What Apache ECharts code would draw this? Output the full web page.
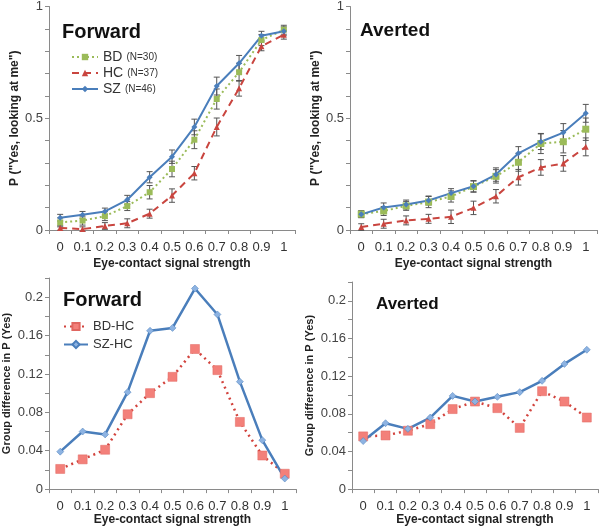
<!DOCTYPE html>
<meta charset="utf-8">
<html style="height: 100%">
<head>
    <title>Eye-contact</title>
    <script src="https://cdn.jsdelivr.net/npm/echarts@6/dist/echarts.min.js"></script>
</head>
<body style="height: 100%; margin: 0; background: #fff">
<div id="container" style="width: 600px; height: 527px"></div>

<script type="text/javascript">

    // categories (eye-contact signal strength)
    let strength = ['0', '0.1', '0.2', '0.3', '0.4', '0.5', '0.6', '0.7', '0.8', '0.9', '1']

    // top left: forward gaze, P("Yes, looking at me")
    let fwdBD = [0.034, 0.042, 0.062, 0.107, 0.169, 0.273, 0.404, 0.586, 0.706, 0.850, 0.896]
    let fwdHC = [0.009, 0.004, 0.018, 0.030, 0.073, 0.154, 0.254, 0.461, 0.634, 0.822, 0.874]
    let fwdSZ = [0.055, 0.068, 0.083, 0.135, 0.236, 0.328, 0.461, 0.644, 0.746, 0.869, 0.889]
    let fwdBDerr = [0.02, 0.02, 0.02, 0.02, 0.03, 0.035, 0.04, 0.045, 0.04, 0.025, 0.02]
    let fwdHCerr = [0.01, 0.01, 0.015, 0.02, 0.02, 0.03, 0.03, 0.04, 0.035, 0.02, 0.02]
    let fwdSZerr = [0.015, 0.015, 0.015, 0.02, 0.025, 0.03, 0.035, 0.04, 0.035, 0.02, 0.02]

    // top right: averted gaze
    let avtBD = [0.071, 0.085, 0.108, 0.125, 0.150, 0.194, 0.240, 0.303, 0.387, 0.395, 0.451]
    let avtHC = [0.013, 0.028, 0.043, 0.050, 0.059, 0.099, 0.151, 0.236, 0.280, 0.298, 0.372]
    let avtSZ = [0.070, 0.101, 0.114, 0.132, 0.165, 0.196, 0.248, 0.343, 0.395, 0.436, 0.522]
    let avtBDerr = [0.015, 0.02, 0.02, 0.025, 0.025, 0.025, 0.03, 0.04, 0.045, 0.05, 0.05]
    let avtHCerr = [0.015, 0.02, 0.02, 0.02, 0.03, 0.03, 0.03, 0.035, 0.035, 0.035, 0.04]
    let avtSZerr = [0.015, 0.02, 0.02, 0.02, 0.02, 0.025, 0.03, 0.03, 0.035, 0.04, 0.04]

    // bottom: group differences
    let fwdBDHC = [0.021, 0.031, 0.041, 0.078, 0.100, 0.117, 0.146, 0.124, 0.070, 0.035, 0.016]
    let fwdSZHC = [0.039, 0.060, 0.057, 0.101, 0.165, 0.168, 0.209, 0.182, 0.112, 0.051, 0.011]
    let avtBDHC = [0.056, 0.057, 0.062, 0.069, 0.085, 0.093, 0.086, 0.065, 0.104, 0.093, 0.076]
    let avtSZHC = [0.051, 0.070, 0.064, 0.076, 0.099, 0.093, 0.098, 0.103, 0.115, 0.133, 0.148]

    let cBD = '#9bbb59', cHC = '#c9453f', cSZ = '#4a7ebb'
    let font = "'Liberation Sans', Arial, sans-serif"

    function xAx(gi) {
        return {
            type: 'category', gridIndex: gi, data: strength, boundaryGap: true,
            axisLine: {lineStyle: {color: '#8a8a8a'}},
            axisTick: {show: true, length: 4, lineStyle: {color: '#8a8a8a'}},
            axisLabel: {color: '#333', fontSize: 13, fontFamily: font, margin: 11, interval: 0},
            name: 'Eye-contact signal strength', nameLocation: 'middle', nameGap: gi < 2 ? 28 : 23,
            nameTextStyle: {color: '#222', fontSize: 12, fontWeight: 'bold', fontFamily: font}
        }
    }

    function yAx(gi, top) {
        let o = {
            type: 'value', gridIndex: gi, min: 0,
            axisLine: {show: true, lineStyle: {color: '#8a8a8a'}},
            axisTick: {show: true, length: 4, lineStyle: {color: '#8a8a8a'}},
            splitLine: {show: false},
            axisLabel: {color: '#444', fontSize: 13, fontFamily: font, margin: 6},
            nameLocation: 'middle', nameRotate: 90,
            nameTextStyle: {color: '#222', fontWeight: 'bold', fontFamily: font}
        }
        if (top) {
            o.max = 1; o.interval = 0.1
            o.axisLabel.formatter = function (v) {
                let r = Math.round(v * 10)
                return (r === 0 || r === 5 || r === 10) ? String(r / 10) : ''
            }
            o.name = 'P ("Yes, looking at me")'
            o.nameGap = 27
            o.nameTextStyle.fontSize = 12
        } else {
            o.max = 0.22; o.interval = 0.02
            o.axisLabel.formatter = function (v) {
                let r = Math.round(v * 100)
                return (r % 4 === 0) ? String(r / 100) : ''
            }
            o.name = 'Group difference in P (Yes)'
            o.nameGap = 37
            o.nameTextStyle.fontSize = 11
        }
        return o
    }

    function lineS(name, gi, data, color, type, symbol, size, width) {
        return {
            type: 'line', name: name, xAxisIndex: gi, yAxisIndex: gi, data: data,
            symbol: symbol, symbolSize: size, showSymbol: true,
            lineStyle: {color: color, width: width, type: type},
            itemStyle: {color: color},
            z: 3
        }
    }

    function errS(gi, vals, errs) {
        let d = vals.map(function (v, i) { return [i, v - errs[i], v + errs[i]] })
        return {
            type: 'custom', xAxisIndex: gi, yAxisIndex: gi, data: d, z: 2,
            renderItem: function (params, api) {
                let lo = api.coord([api.value(0), api.value(1)])
                let hi = api.coord([api.value(0), api.value(2)])
                let w = 3
                let st = {stroke: '#555', lineWidth: 1}
                return {
                    type: 'group', children: [
                        {type: 'line', shape: {x1: lo[0], y1: lo[1], x2: hi[0], y2: hi[1]}, style: st},
                        {type: 'line', shape: {x1: lo[0] - w, y1: lo[1], x2: lo[0] + w, y2: lo[1]}, style: st},
                        {type: 'line', shape: {x1: hi[0] - w, y1: hi[1], x2: hi[0] + w, y2: hi[1]}, style: st}
                    ]
                }
            }
        }
    }

    let dom = document.getElementById("container")
    let chart = echarts.init(dom)

    let legendRich = {
        g: {fontSize: 14, color: '#333', fontFamily: font},
        n: {fontSize: 10, color: '#333', fontFamily: font, padding: [0, 0, 0, 4]}
    }

    chart.setOption({
        animation: false,
        textStyle: {fontFamily: font},
        title: [
            {text: 'Forward', left: 57, top: 17, textStyle: {fontSize: 20, fontWeight: 'bold', color: '#111', fontFamily: font}},
            {text: 'Averted', left: 355, top: 16, textStyle: {fontSize: 19, fontWeight: 'bold', color: '#111', fontFamily: font}},
            {text: 'Forward', left: 58, top: 285, textStyle: {fontSize: 20, fontWeight: 'bold', color: '#111', fontFamily: font}},
            {text: 'Averted', left: 371, top: 291, textStyle: {fontSize: 17, fontWeight: 'bold', color: '#111', fontFamily: font}}
        ],
        legend: [
            {
                data: ['BD', 'HC', 'SZ'], orient: 'vertical', left: 66, top: 45, itemGap: 2,
                itemWidth: 26, itemHeight: 8,
                formatter: function (n) {
                    let N = {BD: 30, HC: 37, SZ: 46}[n]
                    return '{g|' + n + '}{n|(N=' + N + ')}'
                },
                textStyle: {rich: legendRich}
            },
            {
                data: ['BD-HC', 'SZ-HC'], orient: 'vertical', left: 58, top: 315, itemGap: 5,
                itemWidth: 24, itemHeight: 9,
                textStyle: {fontSize: 13, color: '#333', fontFamily: font}
            }
        ],
        grid: [
            {left: 49, top: 5, width: 246, height: 225},
            {left: 350, top: 5, width: 247, height: 225},
            {left: 49, top: 278, width: 247, height: 215},
            {left: 352, top: 282, width: 246, height: 211}
        ],
        xAxis: [xAx(0), xAx(1), xAx(2), xAx(3)],
        yAxis: [yAx(0, true), yAx(1, true), yAx(2, false), yAx(3, false)],
        series: [
            errS(0, fwdBD, fwdBDerr), errS(0, fwdHC, fwdHCerr), errS(0, fwdSZ, fwdSZerr),
            errS(1, avtBD, avtBDerr), errS(1, avtHC, avtHCerr), errS(1, avtSZ, avtSZerr),
            lineS('BD', 0, fwdBD, cBD, [2, 3], 'rect', 6, 2),
            lineS('HC', 0, fwdHC, cHC, [7, 5], 'triangle', 6, 2),
            lineS('SZ', 0, fwdSZ, cSZ, 'solid', 'diamond', 6, 2),
            lineS('BD', 1, avtBD, cBD, [2, 3], 'rect', 7, 2),
            lineS('HC', 1, avtHC, cHC, [7, 5], 'triangle', 6, 2),
            lineS('SZ', 1, avtSZ, cSZ, 'solid', 'diamond', 6, 2),
            {
                type: 'line', name: 'BD-HC', xAxisIndex: 2, yAxisIndex: 2, data: fwdBDHC,
                symbol: 'rect', symbolSize: 9,
                lineStyle: {color: '#d2433d', width: 2.5, type: [2, 4]},
                itemStyle: {color: '#f3807a', borderColor: '#e06660', borderWidth: 0.5}
            },
            {
                type: 'line', name: 'SZ-HC', xAxisIndex: 2, yAxisIndex: 2, data: fwdSZHC,
                symbol: 'diamond', symbolSize: 7,
                lineStyle: {color: cSZ, width: 2.5},
                itemStyle: {color: '#8db3e2', borderColor: cSZ, borderWidth: 0.5}
            },
            {
                type: 'line', name: 'BD-HC', xAxisIndex: 3, yAxisIndex: 3, data: avtBDHC,
                symbol: 'rect', symbolSize: 9,
                lineStyle: {color: '#d2433d', width: 2.5, type: [2, 4]},
                itemStyle: {color: '#f3807a', borderColor: '#e06660', borderWidth: 0.5}
            },
            {
                type: 'line', name: 'SZ-HC', xAxisIndex: 3, yAxisIndex: 3, data: avtSZHC,
                symbol: 'diamond', symbolSize: 7,
                lineStyle: {color: cSZ, width: 2.5},
                itemStyle: {color: '#8db3e2', borderColor: cSZ, borderWidth: 0.5}
            }
        ]
    }, true)

</script>
</body>
</html>
